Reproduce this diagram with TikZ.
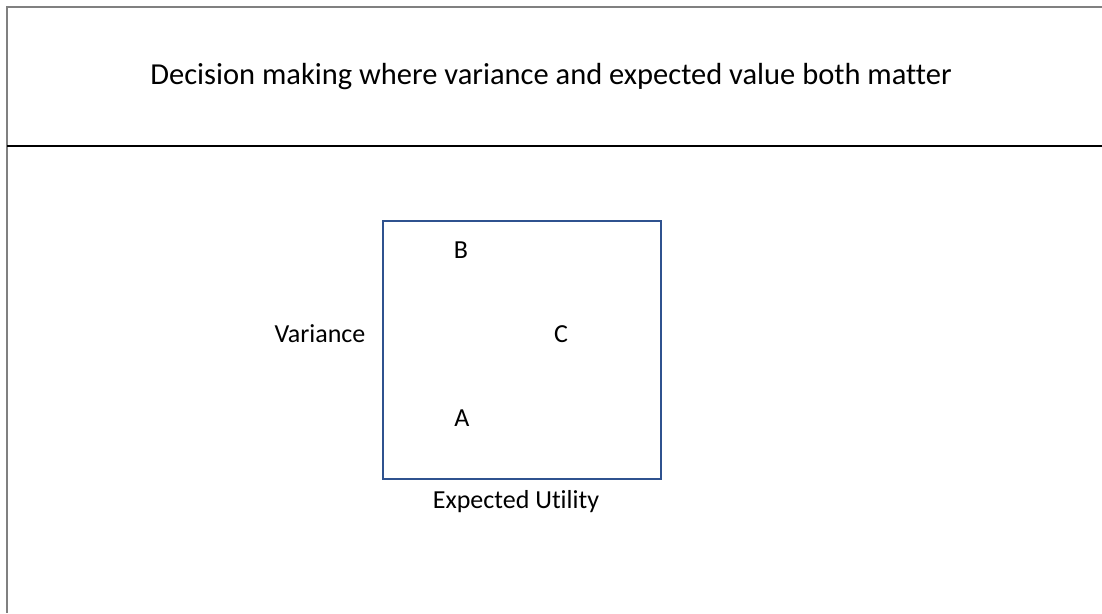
\documentclass[tikz,border=0pt]{standalone}
\usepackage{fontspec}
\setmainfont{Carlito}[Ligatures={NoCommon}]
\definecolor{boxblue}{HTML}{2F528F}
\definecolor{framegray}{HTML}{808080}
\begin{document}
\begin{tikzpicture}[x=1pt,y=-1pt,
  lbl/.style={inner sep=0pt, font=\fontsize{26}{30}\selectfont},
  ttl/.style={inner sep=0pt, font=\fontsize{30.5}{36}\selectfont}]
\useasboundingbox (0,0) rectangle (1102,613);
\coordinate (tl) at (7,7);
\coordinate (tr) at (1102,7);
\coordinate (bl) at (7,613);
\coordinate (ml) at (7,146);
\coordinate (mr) at (1102,146);
\draw[framegray, line width=2pt] (tr) -- (tl) -- (bl);
\draw[black, line width=1.3pt] (ml) -- (mr);
\node[ttl] (title) at (551,77) {Decision making where variance and expected value both matter};
\node[draw=boxblue, line width=2pt, minimum width=278pt, minimum height=258pt, inner sep=0pt] (sq) at (522,349.5) {};
\node[lbl] (B) at (461,250) {B};
\node[lbl] (C) at (561,334) {C};
\node[lbl] (A) at (462,418) {A};
\node[lbl] (var) at (320,334) {Variance};
\node[lbl] (eu) at (516,502) {Expected Utility};
\end{tikzpicture}
\end{document}
